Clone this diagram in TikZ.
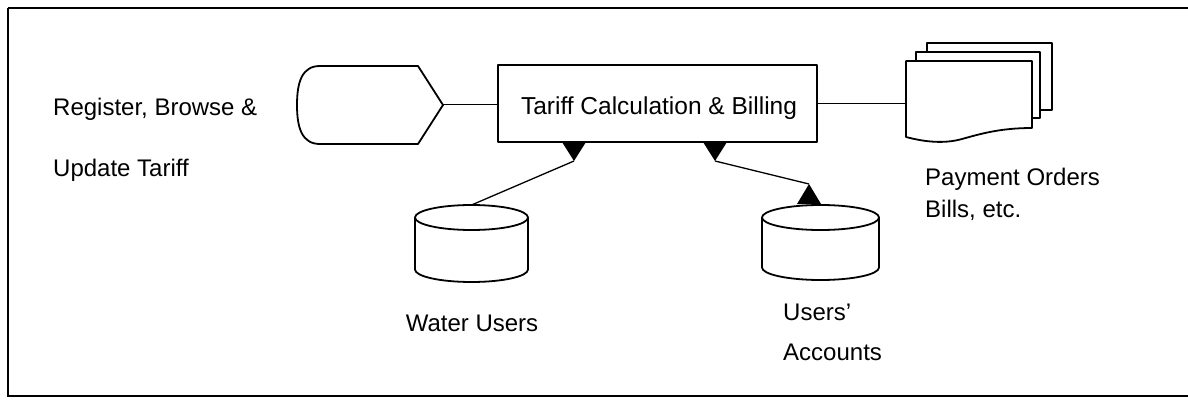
\documentclass[tikz,border=0pt]{standalone}
\usepackage{fontspec}
\setmainfont{Liberation Sans}
\begin{document}
\begin{tikzpicture}[x=1pt,y=-1pt, line join=round,
  shape line/.style={line width=1.8pt},
  link/.style={line width=1.3pt},
  thin link/.style={line width=1.0pt},
  label text/.style={font=\fontsize{24}{24}\selectfont, anchor=base west, inner sep=0pt},
  holder/.style={inner sep=0pt, outer sep=0pt}]
\useasboundingbox (0,0) rectangle (1188,401);

% frame
\draw[line width=2.6pt] (8,8) -- (8,397);
\draw[line width=1.4pt] (8,8) -- (1188,8);
\draw[line width=1.4pt] (8,396) -- (1188,396);

% input labels
\node[label text] (reg1) at (53,116) {Register, Browse \&};
\node[label text] (reg2) at (53,176) {Update Tariff};

% display symbol
\node[holder, minimum width=146pt, minimum height=78pt] (disp) at (370,105) {};
\draw[shape line] (320,66) -- (418,66) -- (disp.east) -- (418,144) -- (320,144)
  .. controls (302,144) and (297,128) .. (disp.west)
  .. controls (297,82) and (302,66) .. (320,66) -- cycle;

% process box
\node[holder, draw, shape line, minimum width=319pt, minimum height=77pt] (calc) at (657.5,103.5) {};
\node[font=\fontsize{24.5}{24.5}\selectfont, anchor=base, inner sep=0pt] (calctext) at (659,114) {Tariff Calculation \& Billing};

% stacked documents
\node[holder, minimum width=126pt, minimum height=81pt] (docs) at (969,101.5) {};
\draw[shape line, fill=white] (927,43) rectangle (1052,110);
\draw[shape line, fill=white] (916,52) rectangle (1040,118);
\draw[shape line, fill=white] (docs.north west) -- (docs.north east) -- (1032,128)
  .. controls (1000,128) and (980,134) .. (962,139)
  .. controls (944,144) and (925,142) .. (906,137) -- cycle;
\node[label text] (pay1) at (925,185) {Payment Orders};
\node[label text] (pay2) at (925,217) {Bills, etc.};

% flow lines
\draw[thin link] (disp.east) -- (disp.east -| calc.west);
\draw[thin link] (calc.east) -- (calc.east -| docs.west);

% data stores
\node[holder, minimum width=113pt, minimum height=77pt] (wu) at (471.5,243.5) {};
\draw[shape line, fill=white] (415,217.5) -- (415,269.5)
  arc[start angle=180, end angle=360, x radius=56.5pt, y radius=12.5pt] -- (528,217.5);
\draw[shape line, fill=white] (471.5,217.5) ellipse [x radius=56.5pt, y radius=12.5pt];
\node[font=\fontsize{24}{24}\selectfont, anchor=base, inner sep=0pt] (wutext) at (472,331) {Water Users};

\node[holder, minimum width=117pt, minimum height=75pt] (ua) at (820.5,242.5) {};
\draw[shape line, fill=white] (762,217.5) -- (762,267.5)
  arc[start angle=180, end angle=360, x radius=58.5pt, y radius=12.5pt] -- (879,217.5);
\draw[shape line, fill=white] (820.5,217.5) ellipse [x radius=58.5pt, y radius=12.5pt];
\node[label text] (ua1) at (783,320) {Users'};
\node[label text] (ua2) at (783,360) {Accounts};

% arrow heads
\coordinate (tipA) at (574,161);
\coordinate (tipB) at (715,161);
\coordinate (tipC) at (809,184);
\fill (562,142) -- (586,142) -- (tipA) -- cycle;
\fill (703,142) -- (727,142) -- (tipB) -- cycle;
\fill (797,204) -- (821,204) -- (tipC) -- cycle;

% data links
\draw[link] (wu.north) -- (tipA);
\draw[link] (tipB) -- (tipC);
\end{tikzpicture}
\end{document}
